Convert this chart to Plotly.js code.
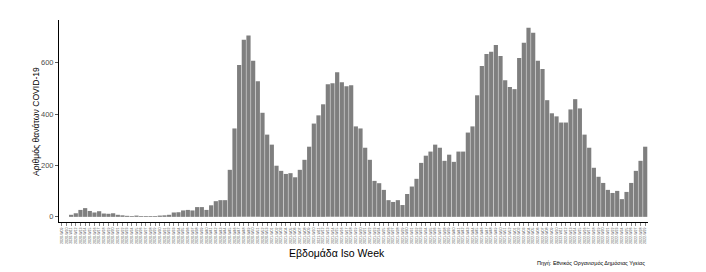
<!DOCTYPE html>
<html>
<head>
<meta charset="utf-8">
<script src="https://cdn.plot.ly/plotly-3.0.1.min.js"></script>
<style>
html,body{margin:0;padding:0;background:#fff;}
#chart{width:706px;height:272px;}
</style>
</head>
<body>
<div id="chart"></div>
<script>
// ISO weeks start at 2020-W09 (2020 has 53 ISO weeks)
const startYear = 2020;
const startWeek = 9;

// Weekly COVID-19 deaths
const deaths = [
  0, 0,
  8, 14, 27, 34, 23, 17, 22, 13, 12, 14, 8, 6, 4, 3, 5, 3, 3, 3, 3, 5,
  6, 8, 17, 18, 25, 27, 25, 38, 38, 27, 45, 61, 65, 65,
  183, 344, 591, 689, 706, 607, 528, 405, 320, 281, 199, 179, 167, 170, 154, 183,
  222, 273, 363, 395, 438, 516, 520, 563, 524, 508, 512,
  352, 344, 269, 222, 140, 131, 105, 65, 58, 65, 46, 89, 118, 148, 210, 238,
  254, 281, 269, 218, 242, 214, 254, 254, 328, 352, 473, 587, 634, 642, 669,
  626, 532, 505, 497, 618, 677, 736, 716, 607, 575, 454, 403, 391, 367, 367,
  418, 458, 422, 320, 269, 191, 156, 132, 105, 93, 101, 69, 97, 132, 179, 218, 273
];

// Tick labels: ISO week codes
const weeksInYear = {2020: 53, 2021: 52, 2022: 52};
const weekLabels = [];
(function(){
  let y = startYear, w = startWeek;
  for (let i = 0; i < deaths.length; i++) {
    weekLabels.push(y + "-W" + String(w).padStart(2, "0"));
    w++;
    if (w > weeksInYear[y]) { w = 1; y++; }
  }
})();

const yTickVals = [0, 200, 400, 600];

const yTitle = "Αριθμός θανάτων COVID-19";
const xTitle = "Εβδομάδα Iso Week";
const caption = "Πηγή: Εθνικός Οργανισμός Δημόσιας Υγείας";

const FONT = "Liberation Sans, Arial, sans-serif";

const trace = {
  type: "bar",
  x: weekLabels,
  y: deaths,
  marker: {color: "#7f7f7f", line: {width: 0}},
  hoverinfo: "x+y"
};

const layout = {
  width: 706,
  height: 272,
  margin: {l: 59, r: 58, t: 20, b: 50, pad: 0},
  paper_bgcolor: "#ffffff",
  plot_bgcolor: "#ffffff",
  bargap: 0.1,
  showlegend: false,
  font: {family: FONT, color: "#000"},
  xaxis: {
    type: "category",
    range: [-0.6, deaths.length - 0.4],
    showgrid: false,
    zeroline: false,
    showline: true,
    linecolor: "#000",
    linewidth: 1,
    ticks: "outside",
    ticklen: 3,
    tickwidth: 0.6,
    tickcolor: "#333",
    tickangle: -90,
    tickfont: {family: FONT, size: 3.6, color: "#4d4d4d"},
    automargin: false
  },
  yaxis: {
    range: [-20, 766],
    tickvals: yTickVals,
    showgrid: false,
    zeroline: false,
    showline: true,
    linecolor: "#000",
    linewidth: 1,
    ticks: "outside",
    ticklen: 3,
    tickwidth: 0.8,
    tickcolor: "#333",
    tickfont: {family: FONT, size: 7.5, color: "#4d4d4d"},
    automargin: false
  },
  annotations: [
    {text: yTitle, xref: "paper", yref: "paper", x: -0.039, y: 0.495,
     xanchor: "center", yanchor: "middle", textangle: -90, showarrow: false,
     font: {family: FONT, size: 8.6, color: "#000"}},
    {text: xTitle, xref: "paper", yref: "paper", x: 0.472, y: -0.153,
     xanchor: "center", yanchor: "middle", showarrow: false,
     font: {family: FONT, size: 10.5, color: "#000"}},
    {text: caption, xref: "paper", yref: "paper", x: 0.998, y: -0.205,
     xanchor: "right", yanchor: "middle", showarrow: false,
     font: {family: FONT, size: 5.5, color: "#000"}}
  ]
};

Plotly.newPlot("chart", [trace], layout, {displayModeBar: false, staticPlot: true});
</script>
</body>
</html>
